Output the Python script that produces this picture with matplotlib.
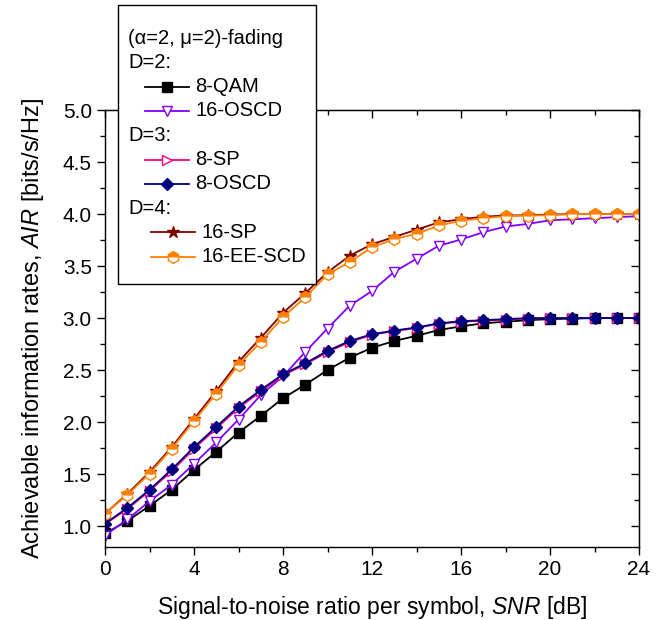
import matplotlib
matplotlib.use("Agg")
import matplotlib.pyplot as plt
import matplotlib.ticker as mticker
from matplotlib.lines import Line2D
from matplotlib.offsetbox import (AnchoredOffsetbox, VPacker, HPacker,
                                  TextArea, DrawingArea)

plt.rcParams["font.family"] = ["Liberation Sans", "DejaVu Sans"]
plt.rcParams["mathtext.fontset"] = "custom"
plt.rcParams["mathtext.rm"] = "Liberation Sans"
plt.rcParams["mathtext.it"] = "Liberation Sans:italic"

# SNR per symbol [dB]
snr = list(range(25))

# D=2
qam8 = [0.93, 1.05, 1.195, 1.35, 1.54, 1.715, 1.90, 2.06, 2.23, 2.36, 2.50, 2.62, 2.715,
        2.78, 2.83, 2.885, 2.92, 2.95, 2.965, 2.98, 2.99, 2.995, 3.0, 3.0, 3.0]
oscd16 = [0.91, 1.065, 1.24, 1.40, 1.60, 1.805, 2.025, 2.26, 2.44, 2.675, 2.90, 3.12, 3.26,
          3.445, 3.57, 3.695, 3.755, 3.825, 3.88, 3.905, 3.94, 3.95, 3.96, 3.97, 3.98]
# D=3
sp8 = [1.02, 1.165, 1.34, 1.53, 1.745, 1.94, 2.135, 2.295, 2.45, 2.555, 2.675, 2.77, 2.84,
       2.875, 2.905, 2.945, 2.965, 2.975, 2.985, 2.995, 3.0, 3.0, 3.0, 3.0, 3.0]
oscd8 = [1.025, 1.175, 1.35, 1.545, 1.76, 1.955, 2.15, 2.31, 2.46, 2.565, 2.685, 2.78, 2.845,
         2.88, 2.91, 2.95, 2.97, 2.98, 2.99, 3.0, 3.0, 3.0, 3.0, 3.0, 3.0]
# D=4
sp16 = [1.12, 1.31, 1.52, 1.76, 2.03, 2.30, 2.58, 2.81, 3.05, 3.24, 3.44, 3.60, 3.71,
        3.78, 3.85, 3.92, 3.95, 3.975, 3.985, 3.99, 3.995, 4.0, 4.0, 4.0, 4.0]
eescd16 = [1.12, 1.30, 1.505, 1.745, 2.01, 2.275, 2.55, 2.77, 3.01, 3.20, 3.42, 3.54, 3.68,
           3.76, 3.81, 3.89, 3.935, 3.96, 3.98, 3.985, 3.99, 4.0, 4.0, 4.0, 4.0]

series = [
    # label, data, color, marker, size, fill style
    ("8-QAM", qam8, "black", "s", 6.5, "full"),
    ("16-OSCD", oscd16, "#8000FF", "v", 7.5, "none"),
    ("8-SP", sp8, "#FF0080", ">", 7.5, "none"),
    ("8-OSCD", oscd8, "#000080", "D", 6.5, "full"),
    ("16-SP", sp16, "#800000", "*", 9, "full"),
    ("16-EE-SCD", eescd16, "#FF8000", "h", 8.5, "top"),
]

fig = plt.figure(figsize=(6.67, 6.2), dpi=100)
ax = fig.add_axes([105 / 667, 1 - 547 / 620, 534 / 667, 437 / 620])

styles = {}
for label, y, c, m, ms, fs in series:
    kw = dict(color=c, lw=1.3, marker=m, ms=ms, mec=c, mew=1.0, fillstyle=fs)
    if fs == "none":
        kw.update(fillstyle="full", mfc="white")
    if fs == "top":
        kw.update(mfc=c, markerfacecoloralt="white")
    styles[label] = kw
    ax.plot(snr, y, **kw)

ax.set_xlim(0, 24)
ax.set_ylim(0.8, 5.0)
ax.xaxis.set_major_locator(mticker.MultipleLocator(4))
ax.xaxis.set_minor_locator(mticker.MultipleLocator(2))
ax.yaxis.set_major_locator(mticker.MultipleLocator(0.5))
ax.yaxis.set_minor_locator(mticker.MultipleLocator(0.25))
ax.yaxis.set_major_formatter(mticker.FormatStrFormatter("%.1f"))
ax.tick_params(which="both", direction="out", labelsize=15, width=1.0)
ax.tick_params(which="major", length=6)
ax.tick_params(which="minor", length=3.5)
for s in ax.spines.values():
    s.set_linewidth(1.0)

# inward ticks on top and right, no labels
top = ax.secondary_xaxis("top")
top.xaxis.set_major_locator(mticker.MultipleLocator(4))
top.xaxis.set_minor_locator(mticker.MultipleLocator(2))
top.tick_params(which="both", direction="in", labeltop=False, width=1.0)
top.tick_params(which="major", length=6)
top.tick_params(which="minor", length=3.5)
right = ax.secondary_yaxis("right")
right.yaxis.set_major_locator(mticker.MultipleLocator(0.5))
right.yaxis.set_minor_locator(mticker.MultipleLocator(0.25))
right.tick_params(which="both", direction="in", labelright=False, width=1.0)
right.tick_params(which="major", length=6)
right.tick_params(which="minor", length=3.5)

ax.set_xlabel("Signal-to-noise ratio per symbol, $SNR$ [dB]", fontsize=16.5, labelpad=11)
ax.set_ylabel("Achievable information rates, $AIR$ [bits/s/Hz]", fontsize=17, labelpad=12)

# hand-built legend with group headers
legend_rows = [
    ("(\u03b1=2, \u03bc=2)-fading", None, 0),
    ("D=2:", None, 0),
    ("8-QAM", "8-QAM", 12),
    ("16-OSCD", "16-OSCD", 12),
    ("D=3:", None, 0),
    ("8-SP", "8-SP", 12),
    ("8-OSCD", "8-OSCD", 12),
    ("D=4:", None, 0),
    ("16-SP", "16-SP", 16.5),
    ("16-EE-SCD", "16-EE-SCD", 16.5),
]
fs_leg = 14.5
rows = [DrawingArea(1, 6)]
for text, key, indent in legend_rows:
    ta = TextArea(text, textprops=dict(fontsize=fs_leg))
    if key is None:
        rows.append(ta)
        continue
    w, h = 32, 10
    da = DrawingArea(w + indent, h, 0, 0)
    kw = dict(styles[key])
    da.add_artist(Line2D([indent, indent + w], [h / 2, h / 2], color=kw["color"], lw=kw["lw"]))
    mk = {k: v for k, v in kw.items() if k not in ("lw",)}
    da.add_artist(Line2D([indent + w / 2], [h / 2], ls="none", **mk))
    rows.append(HPacker(children=[da, ta], pad=0, sep=4.3, align="center"))
rows.append(DrawingArea(1, 2))

box = VPacker(children=rows, align="left", pad=7.2, sep=3.8)
anch = AnchoredOffsetbox(loc="upper left", child=box, pad=0.0, borderpad=0,
                         frameon=True, bbox_to_anchor=(118 / 667, 1 - 5 / 620),
                         bbox_transform=fig.transFigure)
anch.patch.set_boxstyle("square,pad=0")
anch.patch.set_edgecolor("black")
anch.patch.set_linewidth(1.0)
anch.set_zorder(5)
ax.add_artist(anch)

fig.savefig("out.png", dpi=100)
